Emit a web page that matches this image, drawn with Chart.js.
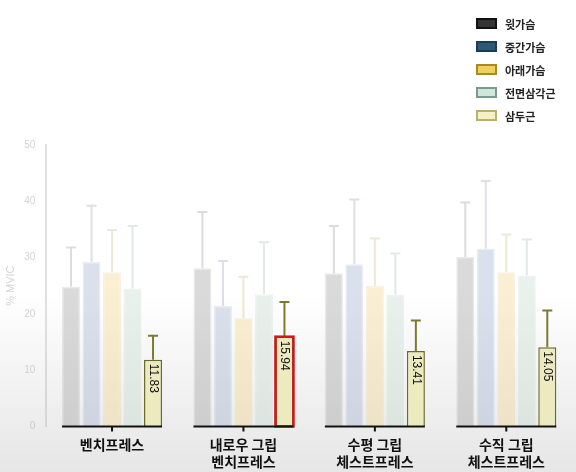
<!DOCTYPE html>
<html>
<head>
<meta charset="utf-8">
<script src="https://cdn.jsdelivr.net/npm/chart.js@4/dist/chart.umd.min.js"></script>
<style>
  body { margin: 0; width: 576px; height: 472px; background: linear-gradient(#fff 0%, #fff 62%, #e6e6e6 100%); font-family: "Noto Sans CJK KR", sans-serif; overflow: hidden; }
  #wrap { position: absolute; left: 0; top: 0; width: 576px; height: 472px; }
  #legend { position: absolute; left: 476px; top: 12px; font-size: 11px; font-weight: bold; color: #222; }
  #legend div { height: 23px; display: flex; align-items: center; }
  #legend span { display: inline-block; width: 17px; height: 7px; border: 2px solid; margin-right: 8px; }
</style>
</head>
<body>
<div id="wrap"><canvas id="c" width="576" height="472"></canvas></div>
<div id="legend"></div>
<script>
const categories = [["벤치프레스"], ["내로우 그립", "벤치프레스"], ["수평 그립", "체스트프레스"], ["수직 그립", "체스트프레스"]]
const seriesNames = ["윗가슴", "중간가슴", "아래가슴", "전면삼각근", "삼두근"]
const means = [
  [24.8, 28.1, 27.2, 30.1],
  [29.2, 21.4, 28.8, 31.6],
  [27.4, 19.2, 25.0, 27.4],
  [24.5, 23.5, 23.4, 26.8],
  [11.83, 15.94, 13.41, 14.05]
]
const errTops = [
  [31.8, 38.1, 35.6, 39.8],
  [39.2, 29.4, 40.3, 43.6],
  [34.9, 26.6, 33.4, 34.1],
  [35.6, 32.7, 30.7, 33.2],
  [16.1, 22.1, 18.8, 20.6]
]
const yTicks = [0, 10, 20, 30, 40, 50]

const legendFill = ["#333", "#2d5878", "#f0d060", "#cfe6da", "#f6f1c4"]
const legendEdge = ["#111", "#1a3c55", "#a88a20", "#7a9a8a", "#b8b070"]
const fills = ["rgba(150,150,150,0.35)", "rgba(150,170,200,0.35)", "rgba(240,210,130,0.35)", "rgba(190,215,200,0.35)", "#ecebc0"]
const edges = ["rgba(150,150,150,0.2)", "rgba(150,170,200,0.2)", "rgba(220,190,110,0.2)", "rgba(170,200,180,0.2)", "#6b6a2e"]
const errColors = ["rgba(140,140,140,0.3)", "rgba(140,150,170,0.3)", "rgba(200,180,120,0.3)", "rgba(160,180,170,0.3)", "#7d7a30"]

let lg = document.getElementById("legend")
seriesNames.forEach((n, i) => {
  lg.innerHTML += `<div><span style="background:${legendFill[i]};border-color:${legendEdge[i]}"></span>${n}</div>`
})

const extras = {
  id: "extras",
  afterDatasetsDraw(chart) {
    const ctx = chart.ctx
    const y = chart.scales.y
    chart.data.datasets.forEach((ds, di) => {
      const meta = chart.getDatasetMeta(di)
      meta.data.forEach((bar, i) => {
        const top = y.getPixelForValue(errTops[di][i])
        ctx.save()
        ctx.strokeStyle = errColors[di]
        ctx.lineWidth = 2
        ctx.beginPath()
        ctx.moveTo(bar.x, bar.y)
        ctx.lineTo(bar.x, top)
        ctx.moveTo(bar.x - 5, top)
        ctx.lineTo(bar.x + 5, top)
        ctx.stroke()
        if (di == 4) {
          ctx.translate(bar.x, bar.y + 4)
          ctx.rotate(Math.PI / 2)
          ctx.fillStyle = "#111"
          ctx.font = "12px 'Liberation Sans'"
          ctx.textBaseline = "middle"
          ctx.fillText(means[di][i].toFixed(2), 0, 0)
          ctx.restore()
          ctx.save()
          if (i == 1) {
            ctx.strokeStyle = "#d4141c"
            ctx.lineWidth = 2.5
            ctx.strokeRect(bar.x - bar.width / 2, bar.y, bar.width, bar.base - bar.y)
          }
        }
        ctx.restore()
      })
    })
    // x axis baselines per group
    const x = chart.scales.x
    ctx.save()
    ctx.strokeStyle = "#111"
    ctx.lineWidth = 2
    categories.forEach((c, i) => {
      const cx = x.getPixelForValue(i)
      const b = y.getPixelForValue(0)
      ctx.beginPath()
      ctx.moveTo(cx - 50, b)
      ctx.lineTo(cx + 50, b)
      ctx.moveTo(cx, b)
      ctx.lineTo(cx, b + 5)
      ctx.stroke()
    })
    ctx.restore()
  }
}

new Chart(document.getElementById("c"), {
  type: "bar",
  data: {
    labels: categories,
    datasets: seriesNames.map((n, i) => ({
      label: n,
      data: means[i],
      backgroundColor: fills[i],
      borderColor: edges[i],
      borderWidth: 1.5
    }))
  },
  options: {
    responsive: false,
    animation: false,
    devicePixelRatio: 1,
    layout: { padding: { top: 145, right: 4 } },
    categoryPercentage: 0.78,
    barPercentage: 0.88,
    plugins: { legend: { display: false }, tooltip: { enabled: false } },
    scales: {
      x: {
        grid: { display: false },
        border: { display: false },
        ticks: { color: "#111", font: { size: 14, weight: "bold", family: "Noto Sans CJK KR" }, padding: 2 }
      },
      y: {
        min: 0, max: 50,
        afterBuildTicks: (s) => { s.ticks = yTicks.map(v => ({ value: v })) },
        grid: { display: false },
        border: { color: "rgba(180,180,180,0.4)", width: 2 },
        title: { display: true, text: "% MVIC", color: "rgba(170,170,170,0.5)", font: { size: 11 } },
        ticks: { color: "rgba(170,170,170,0.5)", font: { size: 10 } }
      }
    }
  },
  plugins: [extras]
})
</script>
</body>
</html>
